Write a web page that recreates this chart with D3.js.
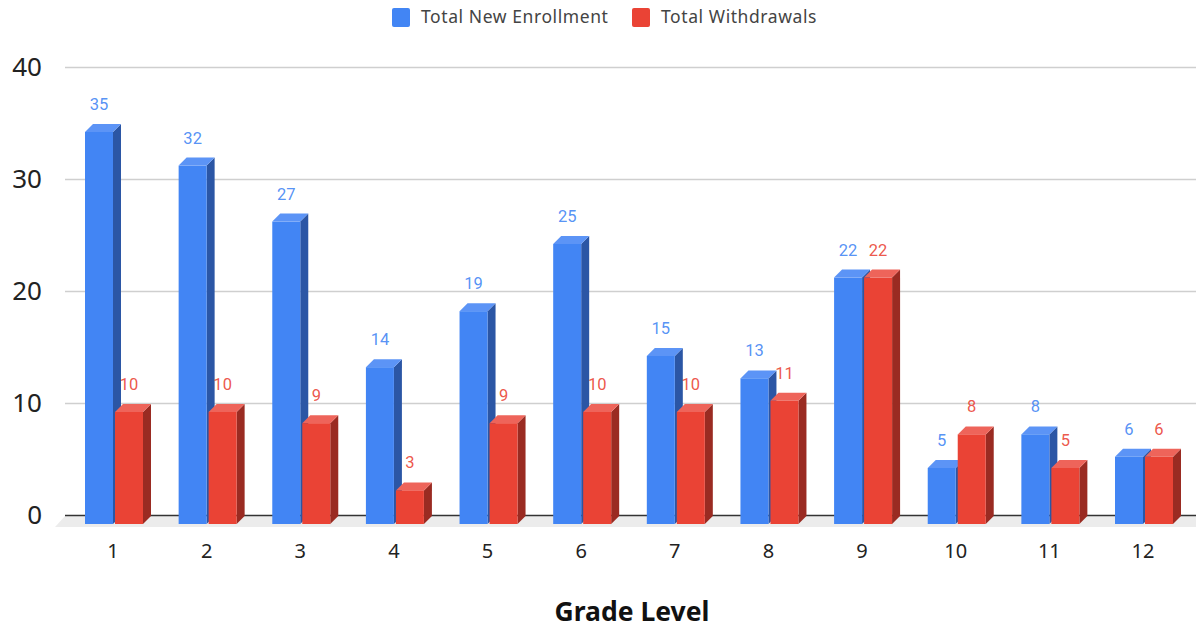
<!DOCTYPE html>
<html><head><meta charset="utf-8">
<script src="https://cdn.jsdelivr.net/npm/d3@7"></script>
<style>html,body{margin:0;padding:0;background:#fff}svg{display:block}</style></head>
<body><div id="c"></div>
<script>
const grades = ["1","2","3","4","5","6","7","8","9","10","11","12"];
const enrollment = [35,32,27,14,19,25,15,13,22,5,8,6];
const withdrawals = [10,10,9,3,9,10,10,11,22,8,5,6];
const yTicks = [0,10,20,30,40];
const seriesNames = ["Total New Enrollment","Total Withdrawals"];
const W=1196,H=624,depth=8,bw=28;
const svg=d3.select("#c").append("svg").attr("width",W).attr("height",H);
const y=d3.scaleLinear().domain([0,40]).range([515.5,67.5]);
const x=d3.scalePoint().domain(grades).range([113,1143]);
const font="'Noto Sans',sans-serif";
const frontY=v=>y(v)+depth+0.5;
const series=[
 {name:seriesNames[0],vals:enrollment,off:-28,c:"#4285f4",top:"#5c94f6",side:"#2b56a5"},
 {name:seriesNames[1],vals:withdrawals,off:2,c:"#ea4335",top:"#ee645a",side:"#9a2b22"}];
// grid
svg.append("g").selectAll("line").data(yTicks.filter(d=>d>0)).join("line")
 .attr("x1",65).attr("x2",W).attr("y1",y).attr("y2",y).attr("stroke","#cfcfcf").attr("stroke-width",1.5);
svg.append("polygon").attr("points",[[55,527],[65.5,y(0)],[W,y(0)],[W,527]].join(" ")).attr("fill","#ececec");
svg.append("line").attr("x1",65).attr("x2",W).attr("y1",y(0)).attr("y2",y(0)).attr("stroke","#333").attr("stroke-width",1.5);
// y labels
svg.append("g").selectAll("text").data(yTicks).join("text")
 .attr("x",42).attr("y",d=>y(d)+8).attr("text-anchor","end").attr("font-family",font).attr("font-size",26).attr("fill","#222").text(d=>d);
// x labels
svg.append("g").selectAll("text").data(grades).join("text")
 .attr("x",d=>x(d)).attr("y",558).attr("text-anchor","middle").attr("font-family",font).attr("font-size",20).attr("fill","#222").text(d=>d);
// bars
series.forEach(s=>{
 const g=svg.append("g").selectAll("g").data(grades.map((k,i)=>({k,v:s.vals[i]}))).join("g");
 const L=d=>x(d.k)+s.off, base=y(0)+depth+0.5;
 g.append("polygon").attr("fill",s.side).attr("points",d=>[[L(d)+bw,frontY(d.v)],[L(d)+bw+depth,frontY(d.v)-depth],[L(d)+bw+depth,base-depth],[L(d)+bw,base]].join(" "));
 g.append("polygon").attr("fill",s.top).attr("points",d=>[[L(d),frontY(d.v)],[L(d)+depth,frontY(d.v)-depth],[L(d)+bw+depth,frontY(d.v)-depth],[L(d)+bw,frontY(d.v)]].join(" "));
 g.append("rect").attr("fill",s.c).attr("x",L).attr("y",d=>frontY(d.v)).attr("width",bw).attr("height",d=>base-frontY(d.v));
 g.append("text").attr("x",d=>L(d)+bw/2).attr("y",d=>y(d.v)-13.5).attr("text-anchor","middle")
  .attr("font-family","Roboto,sans-serif").attr("font-size",16.5).attr("fill",s.c).attr("fill-opacity",0.9).text(d=>d.v);
});
// legend
const lg=[{x:392,tx:421,s:series[0]},{x:632,tx:661,s:series[1]}];
lg.forEach(l=>{
 svg.append("rect").attr("x",l.x).attr("y",8).attr("width",18).attr("height",19).attr("rx",2).attr("fill",l.s.c);
 svg.append("text").attr("x",l.tx).attr("y",23).attr("font-family",font).attr("font-size",17.5).attr("letter-spacing",0.58).attr("fill","#444").text(l.s.name);
});
svg.append("text").attr("x",632).attr("y",620.5).attr("text-anchor","middle").attr("font-family",font).attr("font-weight",700).attr("font-size",26.5).attr("fill","#111").text("Grade Level");
</script></body></html>
